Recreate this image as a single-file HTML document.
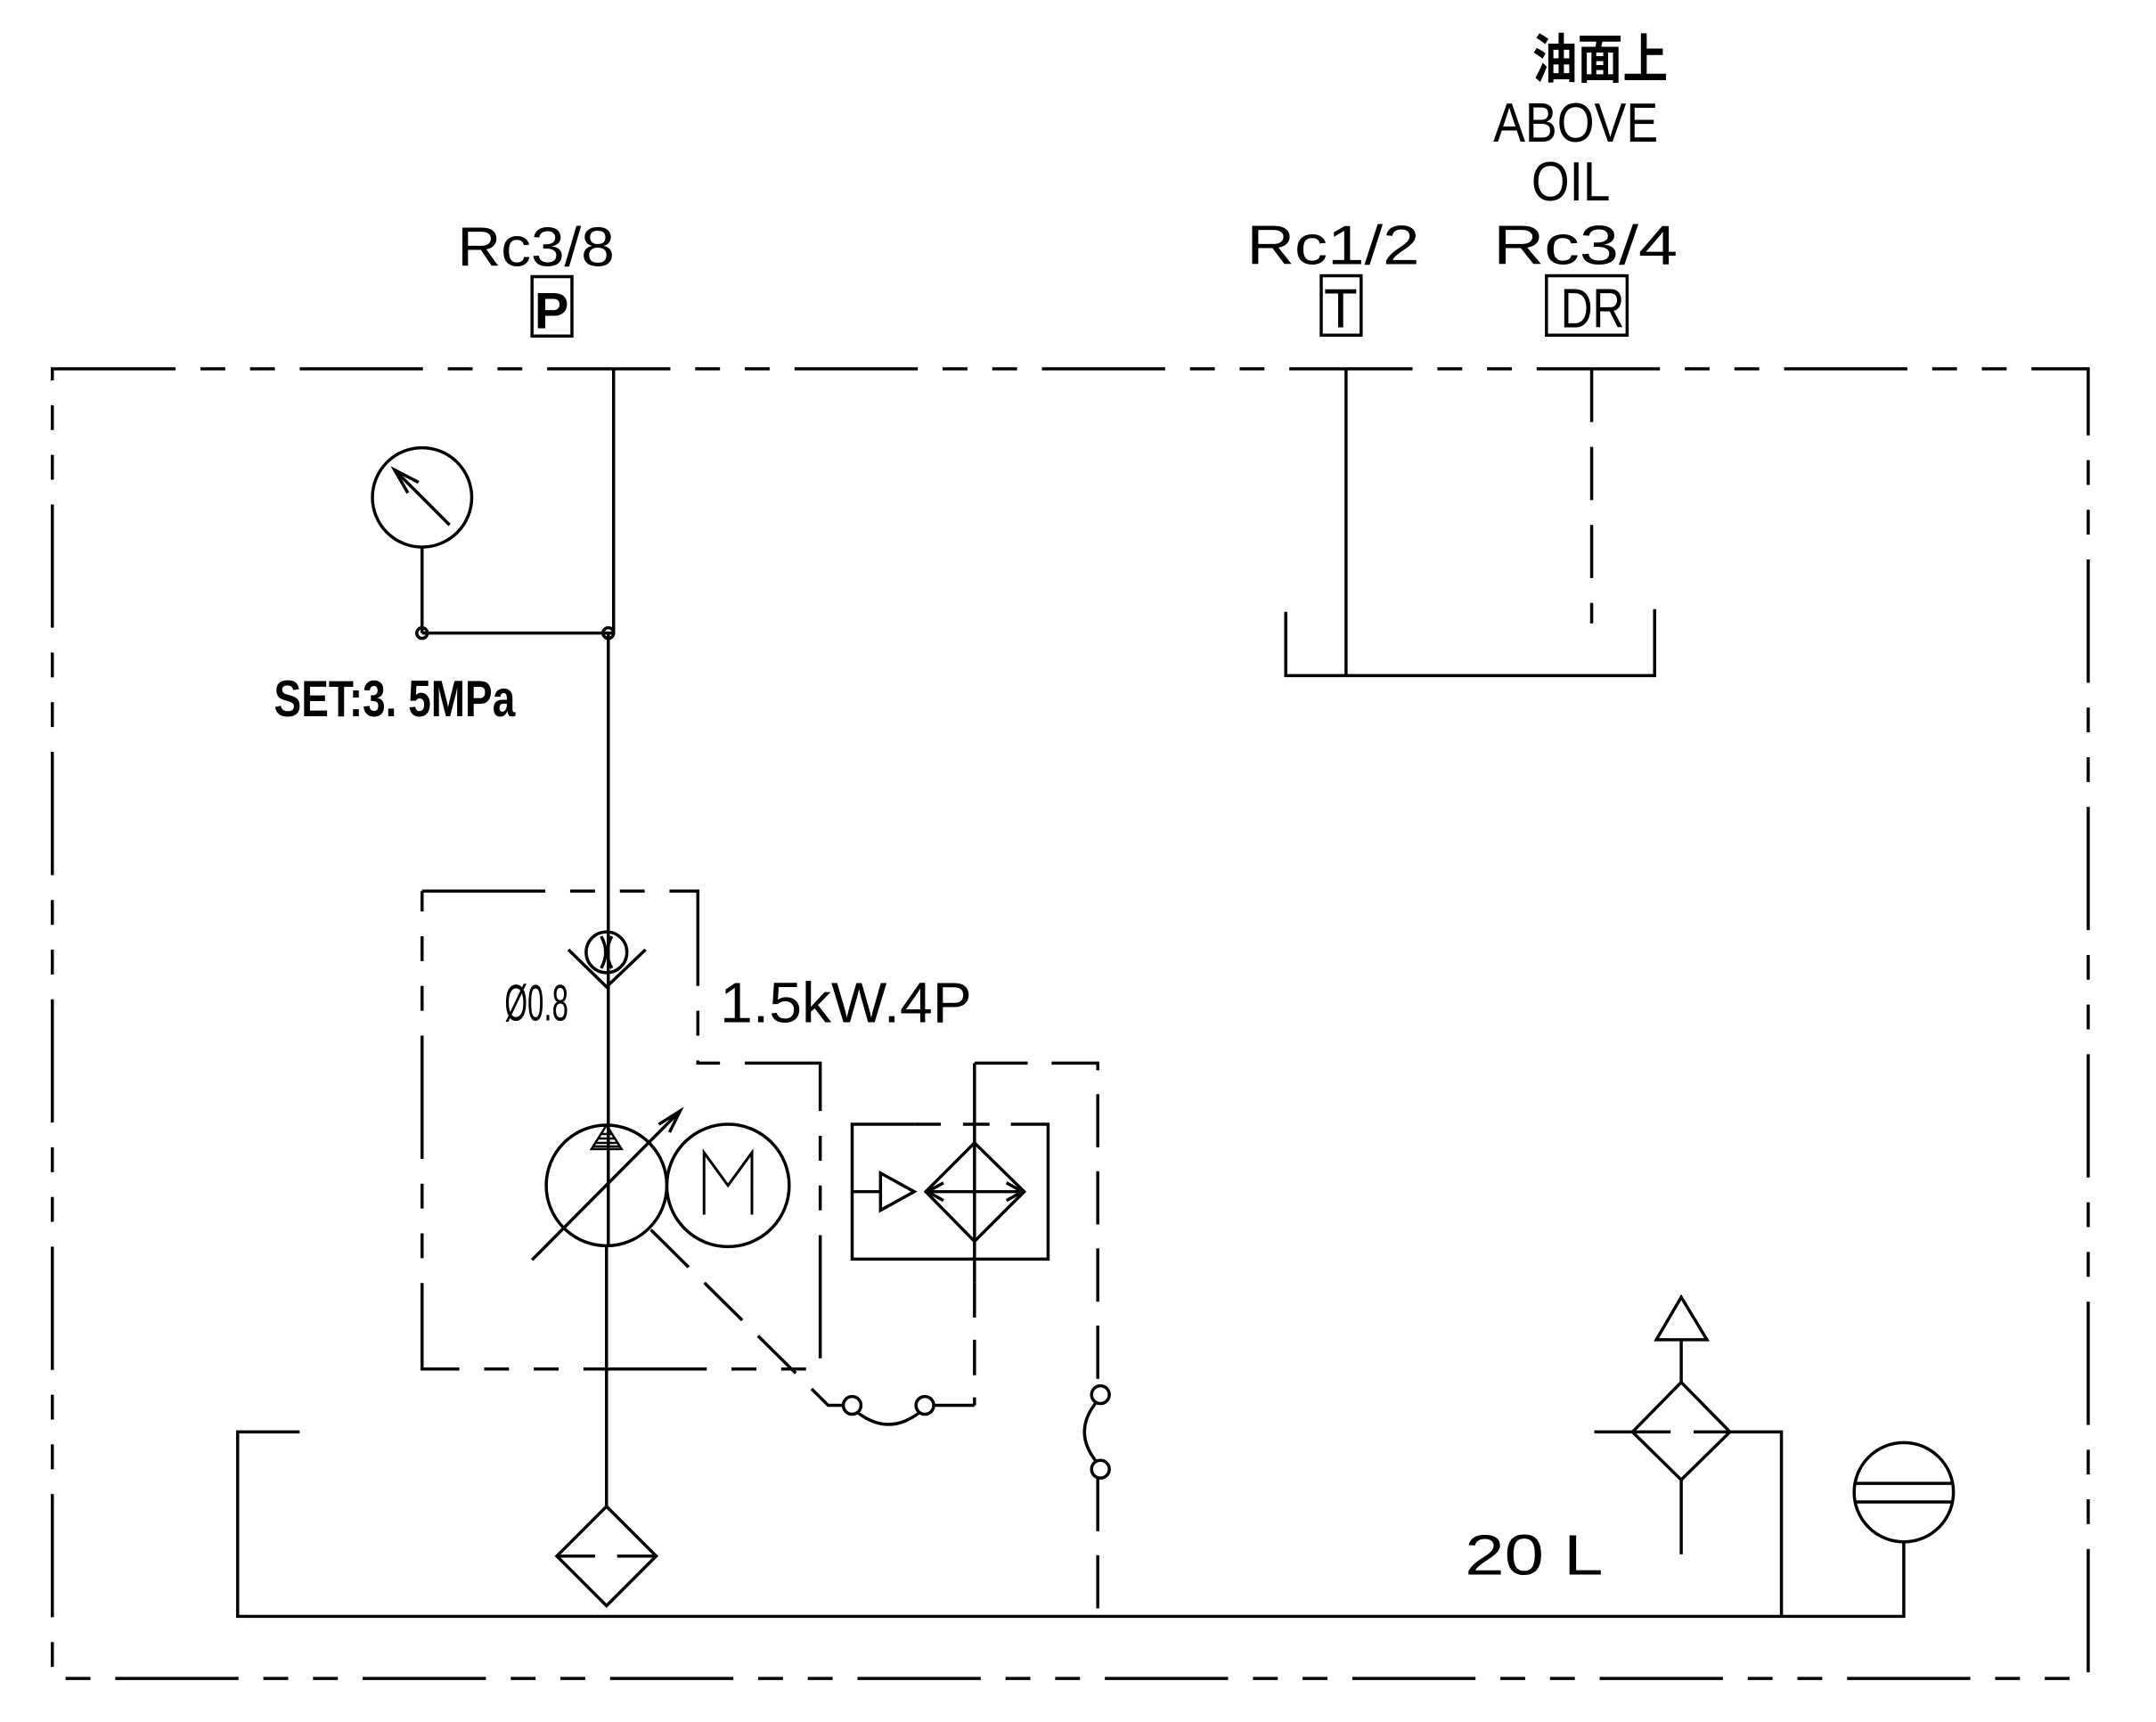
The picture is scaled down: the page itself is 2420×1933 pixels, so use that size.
<!DOCTYPE html>
<html><head><meta charset="utf-8"><style>html,body{margin:0;padding:0;background:#fff}svg{display:block}</style></head>
<body>
<svg width="2420" height="1933" viewBox="0 0 2420 1933" xmlns="http://www.w3.org/2000/svg">
<g transform="scale(0.9953)">
<g fill="none" stroke="#000" stroke-width="3.5" stroke-linecap="butt">
<rect x="59" y="416" width="2296" height="1477" stroke-dasharray="139 28 28 28 28 28"/>
<polyline points="692,416 692,714 686,714 686,1405"/>
<circle cx="476" cy="561" r="56"/>
<line x1="507" y1="592" x2="445" y2="530"/>
<polyline points="472,544 445,530 460,556"/>
<line x1="476" y1="617" x2="476" y2="714"/>
<line x1="476" y1="714" x2="686" y2="714"/>
<circle cx="476" cy="714" r="6"/><circle cx="686" cy="714" r="6"/>
<rect x="1490" y="311" width="45" height="67"/>
<rect x="1744" y="311" width="91" height="67"/>
<rect x="600" y="312" width="45" height="67"/>
<line x1="1518" y1="416" x2="1518" y2="762"/>
<line x1="1795" y1="416" x2="1795" y2="703" stroke-dasharray="60 28"/>
<polyline points="1450,690 1450,762 1866,762 1866,687"/>
<polyline points="476,1005 787,1005 787,1199 925,1199 925,1544 476,1544 476,1005" stroke-dasharray="139 28 28 28 28 28"/>
<circle cx="684" cy="1074" r="23"/>
<path d="M678,1056 Q688,1074 678,1092 M690,1056 Q680,1074 690,1092"/>
<polyline points="641,1071 684,1113 728,1071"/>
<circle cx="684" cy="1337" r="68"/>
<circle cx="821" cy="1337" r="69"/>
<polyline points="794,1370 794,1300 821,1337 848,1300 848,1370" stroke-width="3"/>
<line x1="600" y1="1421" x2="767" y2="1253"/>
<polyline points="743,1268 767,1253 755,1277"/>
<line x1="684" y1="1405" x2="684" y2="1699"/>
<polyline points="734,1387 934,1585 951,1585" stroke-dasharray="60 25"/>
<circle cx="961" cy="1585" r="10"/><circle cx="1043" cy="1585" r="10"/>
<path d="M967,1593 Q1002,1620 1037,1593"/>
<line x1="1053" y1="1585" x2="1099" y2="1585"/>
<line x1="1099" y1="1199" x2="1099" y2="1446"/>
<line x1="1099" y1="1446" x2="1099" y2="1585" stroke-dasharray="40 25"/>
<polyline points="1099,1199 1238,1199 1238,1563" stroke-dasharray="60 27"/>
<line x1="1238" y1="1667" x2="1238" y2="1823" stroke-dasharray="60 27"/>
<circle cx="1241" cy="1573" r="10"/><circle cx="1241" cy="1657" r="10"/>
<path d="M1236,1582 Q1210,1615 1236,1648"/>
<polyline points="1031,1268 961,1268 961,1420 1182,1420 1182,1268 1140,1268"/>
<line x1="1031" y1="1268" x2="1140" y2="1268" stroke-dasharray="30 25"/>
<line x1="961" y1="1344" x2="993" y2="1344"/>
<polygon points="993,1323 993,1365 1031,1344"/>
<polygon points="1044,1344 1099,1289 1155,1344 1099,1400"/>
<line x1="1044" y1="1344" x2="1155" y2="1344"/>
<polyline points="1064,1334 1046,1344 1064,1354"/>
<polyline points="1135,1334 1153,1344 1135,1354"/>
<polygon points="628,1755 684,1699 740,1755 684,1811"/>
<line x1="628" y1="1755" x2="740" y2="1755" stroke-dasharray="43 25"/>
<polyline points="338,1615 268,1615 268,1823 2147,1823 2147,1739"/>
<polygon points="1896,1463 1868,1511 1925,1511"/>
<line x1="1896" y1="1511" x2="1896" y2="1559"/>
<polygon points="1841,1615 1896,1559 1951,1615 1896,1669"/>
<line x1="1798" y1="1615" x2="1841" y2="1615"/>
<line x1="1841" y1="1615" x2="1884" y2="1615"/>
<line x1="1910" y1="1615" x2="1951" y2="1615"/>
<polyline points="1951,1615 2009,1615 2009,1823"/>
<line x1="1896" y1="1669" x2="1896" y2="1753"/>
<circle cx="2147" cy="1683" r="56"/>
<line x1="2091" y1="1673" x2="2203" y2="1673"/>
<line x1="2091" y1="1694" x2="2203" y2="1694"/>
</g>
<g stroke="#000" stroke-width="2.5">
<polygon points="684,1269 667,1296 701,1296" fill="none"/>
<line x1="678" y1="1279" x2="690" y2="1279"/><line x1="675" y1="1284" x2="693" y2="1284"/>
<line x1="672" y1="1289" x2="696" y2="1289"/><line x1="669" y1="1293" x2="699" y2="1293"/>
</g>
<g font-family="'Liberation Sans', sans-serif" fill="#000">
<text x="516" y="300" font-size="62" textLength="177" lengthAdjust="spacingAndGlyphs">Rc3/8</text>
<text x="1406" y="298" font-size="62" textLength="195" lengthAdjust="spacingAndGlyphs">Rc1/2</text>
<text x="1684" y="298" font-size="62" textLength="208" lengthAdjust="spacingAndGlyphs">Rc3/4</text>
<text x="1684" y="160" font-size="62" textLength="186" lengthAdjust="spacingAndGlyphs">ABOVE</text>
<text x="1727" y="226" font-size="62" textLength="89" lengthAdjust="spacingAndGlyphs">OIL</text>
<text x="1728" y="88" font-size="60" font-weight="bold" font-family="'Liberation Sans','Noto Sans CJK SC',sans-serif" textLength="153" lengthAdjust="spacingAndGlyphs">油面上</text>
<text x="622" y="370" font-size="58" font-weight="bold" text-anchor="middle">P</text>
<text x="1512" y="369" font-size="62" text-anchor="middle">T</text>
<text x="1760" y="369" font-size="62" textLength="72" lengthAdjust="spacingAndGlyphs">DR</text>
<text x="309" y="808" font-size="58" font-weight="bold" textLength="272" lengthAdjust="spacingAndGlyphs">SET:3. 5MPa</text>
<text x="569" y="1151" font-size="58" textLength="72" lengthAdjust="spacingAndGlyphs">Ø0.8</text>
<text x="812" y="1153" font-size="64" textLength="284" lengthAdjust="spacingAndGlyphs">1.5kW.4P</text>
<text x="1652" y="1776" font-size="64" textLength="156" lengthAdjust="spacingAndGlyphs">20 L</text>
</g>
</g>
</svg>
</body></html>
